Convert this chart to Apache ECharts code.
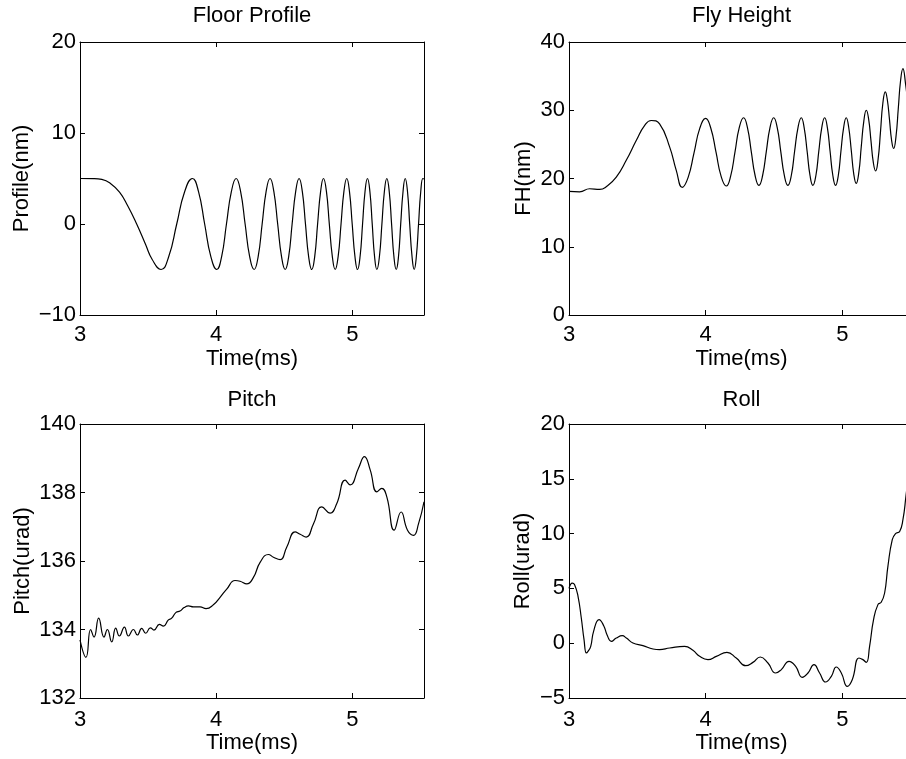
<!DOCTYPE html>
<html>
<head>
<meta charset="utf-8">
<script src="https://cdn.jsdelivr.net/npm/echarts@6/dist/echarts.min.js"></script>
<style>
html,body{margin:0;padding:0;background:#fff;}
#chart{width:906px;height:759px;}
</style>
</head>
<body>
<div id="chart"></div>
<script>
// ---- data ----
const titles = ['Floor Profile', 'Fly Height', 'Pitch', 'Roll'];
const yNames = ['Profile(nm)', 'FH(nm)', 'Pitch(urad)', 'Roll(urad)'];
const xName = 'Time(ms)';
const xRange = [3, 5.525];
const xInterval = 1;
const yRanges = [[-10, 20], [0, 40], [132, 140], [-5, 20]];
const yIntervals = [10, 10, 2, 5];

const floorX = [3.0,3.1,3.16,3.22,3.29,3.35,3.416,3.48,3.53,3.595,
  3.652,3.71,3.768,3.825,3.87,3.915,3.96,4.004,
  4.04,4.075,4.111,4.146,4.179,4.212,4.245,4.278,
  4.308,4.337,4.366,4.395,4.423,4.451,4.479,4.506,
  4.532,4.557,4.583,4.608,4.632,4.655,4.678,4.701,
  4.723,4.744,4.766,4.787,4.809,4.83,4.852,4.873,
  4.895,4.916,4.937,4.958,4.978,4.998,5.018,5.037,
  5.056,5.074,5.092,5.11,5.128,5.145,5.162,5.179,
  5.198,5.216,5.234,5.252,5.27,5.287,5.304,5.321,
  5.338,5.354,5.371,5.387,5.404,5.42,5.437,5.453,
  5.469,5.485,5.501,5.517,5.525];
const floorY = [5,4.99,4.9,4.5,3.5,2.0,0,-2.2,-3.9,-5,
  -3.55,0,3.55,5,3.55,0,-3.55,-5,
  -3.55,0,3.55,5,3.55,0,-3.55,-5,
  -3.55,0,3.55,5,3.55,0,-3.55,-5,
  -3.55,0,3.55,5,3.55,0,-3.55,-5,
  -3.55,0,3.55,5,3.55,0,-3.55,-5,
  -3.55,0,3.55,5,3.55,0,-3.55,-5,
  -3.55,0,3.55,5,3.55,0,-3.55,-5,
  -3.55,0,3.55,5,3.55,0,-3.55,-5,
  -3.55,0,3.55,5,3.55,0,-3.55,-5,
  -3.55,0,3.55,5,4.95];

const fhX = [3.0,3.078,3.151,3.224,3.273,3.346,3.42,3.493,3.554,3.602,3.663,3.737,3.785,3.829,
  3.872,3.915,3.957,4.0,
  4.038,4.076,4.113,4.151,
  4.183,4.215,4.246,4.278,
  4.306,4.334,4.362,4.39,
  4.417,4.444,4.471,4.498,
  4.524,4.55,4.576,4.602,
  4.627,4.651,4.676,4.7,
  4.721,4.743,4.764,4.785,
  4.807,4.828,4.85,4.871,
  4.891,4.911,4.931,4.951,
  4.971,4.99,5.01,5.029,
  5.047,5.066,5.084,5.102,
  5.121,5.139,5.158,5.176,
  5.193,5.21,5.227,5.244,
  5.262,5.28,5.297,5.315,
  5.33,5.346,5.361,5.376,
  5.393,5.41,5.427,5.444,
  5.463,5.49,5.525];
const fhY = [18.1,18.05,18.5,18.4,18.8,20.2,22.7,25.6,27.8,28.5,28.0,24.6,21.2,18.7,
  20.16,23.75,27.34,28.8,
  27.36,23.85,20.34,18.9,
  20.35,23.9,27.45,28.9,
  27.46,23.95,20.44,19.0,
  20.44,23.95,27.46,28.9,
  27.46,23.95,20.44,19.0,
  20.44,23.95,27.46,28.9,
  27.46,23.95,20.44,19.0,
  20.44,23.95,27.46,28.9,
  27.46,23.95,20.44,19.0,
  20.44,23.95,27.46,28.9,
  27.51,24.1,20.69,19.3,
  20.85,24.65,28.45,30.0,
  28.71,25.55,22.39,21.1,
  22.78,26.9,31.02,32.7,
  31.5,28.55,25.6,24.4,
  26.1,30.25,34.4,36.1,
  33.9,29.5,25];

const pitchX = [3.0,3.044,3.078,3.103,3.137,3.176,3.201,3.233,3.262,3.289,3.326,3.355,3.392,3.421,3.453,3.482,3.517,3.543,3.583,3.612,3.649,3.673,3.705,3.734,3.764,3.796,3.832,3.881,3.925,3.979,4.028,4.077,4.138,4.175,4.224,4.273,4.322,4.383,4.42,4.469,4.518,4.579,4.616,4.66,4.714,4.775,4.836,4.885,4.946,4.983,5.044,5.088,5.13,5.179,5.215,5.252,5.306,5.357,5.404,5.448,5.485,5.525];
const pitchY = [133.7,133.19,134.0,133.78,134.33,133.78,134.0,133.64,134.04,133.81,134.07,133.81,134.0,133.84,134.03,133.89,134.05,133.98,134.15,134.1,134.28,134.33,134.5,134.54,134.64,134.69,134.66,134.66,134.61,134.72,134.94,135.18,135.43,135.41,135.33,135.52,135.96,136.19,136.11,136.04,136.41,136.85,136.78,136.7,137.09,137.58,137.4,137.68,138.36,138.22,138.71,139.05,138.66,138.02,138.12,137.87,136.9,137.43,136.9,136.75,137.09,137.73];

const rollX = [3.0,3.024,3.041,3.066,3.09,3.11,3.127,3.139,3.159,3.18,3.22,3.254,3.278,3.31,3.346,3.39,3.42,3.468,3.541,3.615,3.663,3.737,3.846,3.907,3.956,4.017,4.078,4.156,4.224,4.293,4.346,4.4,4.456,4.512,4.554,4.61,4.659,4.707,4.749,4.793,4.834,4.878,4.92,4.956,4.993,5.037,5.073,5.122,5.151,5.176,5.2,5.229,5.261,5.285,5.31,5.334,5.366,5.39,5.42,5.444,5.466,5.5,5.525];
const rollY = [5.0,5.49,5.34,4.28,2.3,0.32,-0.89,-0.74,-0.29,1.08,2.15,1.6,0.78,0.17,0.47,0.69,0.47,0.02,-0.22,-0.53,-0.59,-0.44,-0.29,-0.65,-1.2,-1.5,-1.2,-0.83,-1.35,-2.05,-1.75,-1.26,-1.81,-2.72,-2.41,-1.65,-2.11,-3.11,-2.72,-1.96,-2.72,-3.54,-3.02,-2.17,-2.72,-3.94,-3.33,-1.35,-1.5,-1.75,-0.29,2.15,3.52,3.73,4.58,7.01,9.45,10.0,10.2,11.27,13.4,17.0,19.0];

const seriesX = [floorX, fhX, pitchX, rollX];
const seriesY = [floorY, fhY, pitchY, rollY];

// ---- layout / style ----
const FONT = '"Liberation Sans", Arial, Helvetica, sans-serif';
const FS = 22;
const grids = [
  {left: 80, top: 42, width: 344, height: 273},
  {left: 569, top: 42, width: 345, height: 273},
  {left: 80, top: 424, width: 344, height: 274},
  {left: 569, top: 424, width: 345, height: 274}
];
const titleGap = [15, 15, 13, 13];
const xNameGap = [33, 33, 31, 31];
const xLabelMargin = [9, 9, 11, 11];
const yNameGap = [47, 34, 46, 35];

function fmt(v) {
  if (Math.abs(v - Math.round(v)) > 1e-6) return '';
  return String(Math.round(v)).replace('-', '\u2212');
}
const textStyle = {color: '#000', fontSize: FS, fontFamily: FONT};
const lineSt = {color: '#000', width: 1};

const xAxes = [], yAxes = [], series = [];
for (let i = 0; i < 4; i++) {
  const common = {
    gridIndex: i, type: 'value',
    axisLine: {show: true, onZero: false, lineStyle: lineSt},
    axisTick: {show: true, inside: true, length: 5, lineStyle: lineSt},
    splitLine: {show: false}
  };
  xAxes.push(Object.assign({}, common, {
    position: 'bottom', min: xRange[0], max: xRange[1], interval: xInterval,
    axisLabel: Object.assign({formatter: fmt, margin: xLabelMargin[i]}, textStyle),
    name: xName, nameLocation: 'middle', nameGap: xNameGap[i], nameTextStyle: textStyle
  }));
  xAxes.push(Object.assign({}, common, {
    position: 'top', min: xRange[0], max: xRange[1], interval: xInterval,
    axisLabel: {show: false},
    name: titles[i], nameLocation: 'middle', nameGap: titleGap[i], nameTextStyle: textStyle
  }));
  yAxes.push(Object.assign({}, common, {
    position: 'left', min: yRanges[i][0], max: yRanges[i][1], interval: yIntervals[i],
    axisLabel: Object.assign({formatter: fmt, margin: 4}, textStyle),
    name: yNames[i], nameLocation: 'middle', nameGap: yNameGap[i], nameTextStyle: textStyle
  }));
  yAxes.push(Object.assign({}, common, {
    position: 'right', min: yRanges[i][0], max: yRanges[i][1], interval: yIntervals[i],
    axisLabel: {show: false}
  }));
  series.push({
    type: 'line', xAxisIndex: 2 * i, yAxisIndex: 2 * i,
    data: seriesX[i].map((x, k) => [x, seriesY[i][k]]),
    showSymbol: false, symbol: 'none', smooth: 0.5,
    lineStyle: {color: '#000', width: 1.2},
    clip: true
  });
}

const chart = echarts.init(document.getElementById('chart'), null, {renderer: 'canvas'});
chart.setOption({
  backgroundColor: '#fff',
  animation: false,
  grid: grids.map(g => Object.assign({outerBoundsMode: 'none', containLabel: false}, g)),
  xAxis: xAxes,
  yAxis: yAxes,
  series: series
});
</script>
</body>
</html>
